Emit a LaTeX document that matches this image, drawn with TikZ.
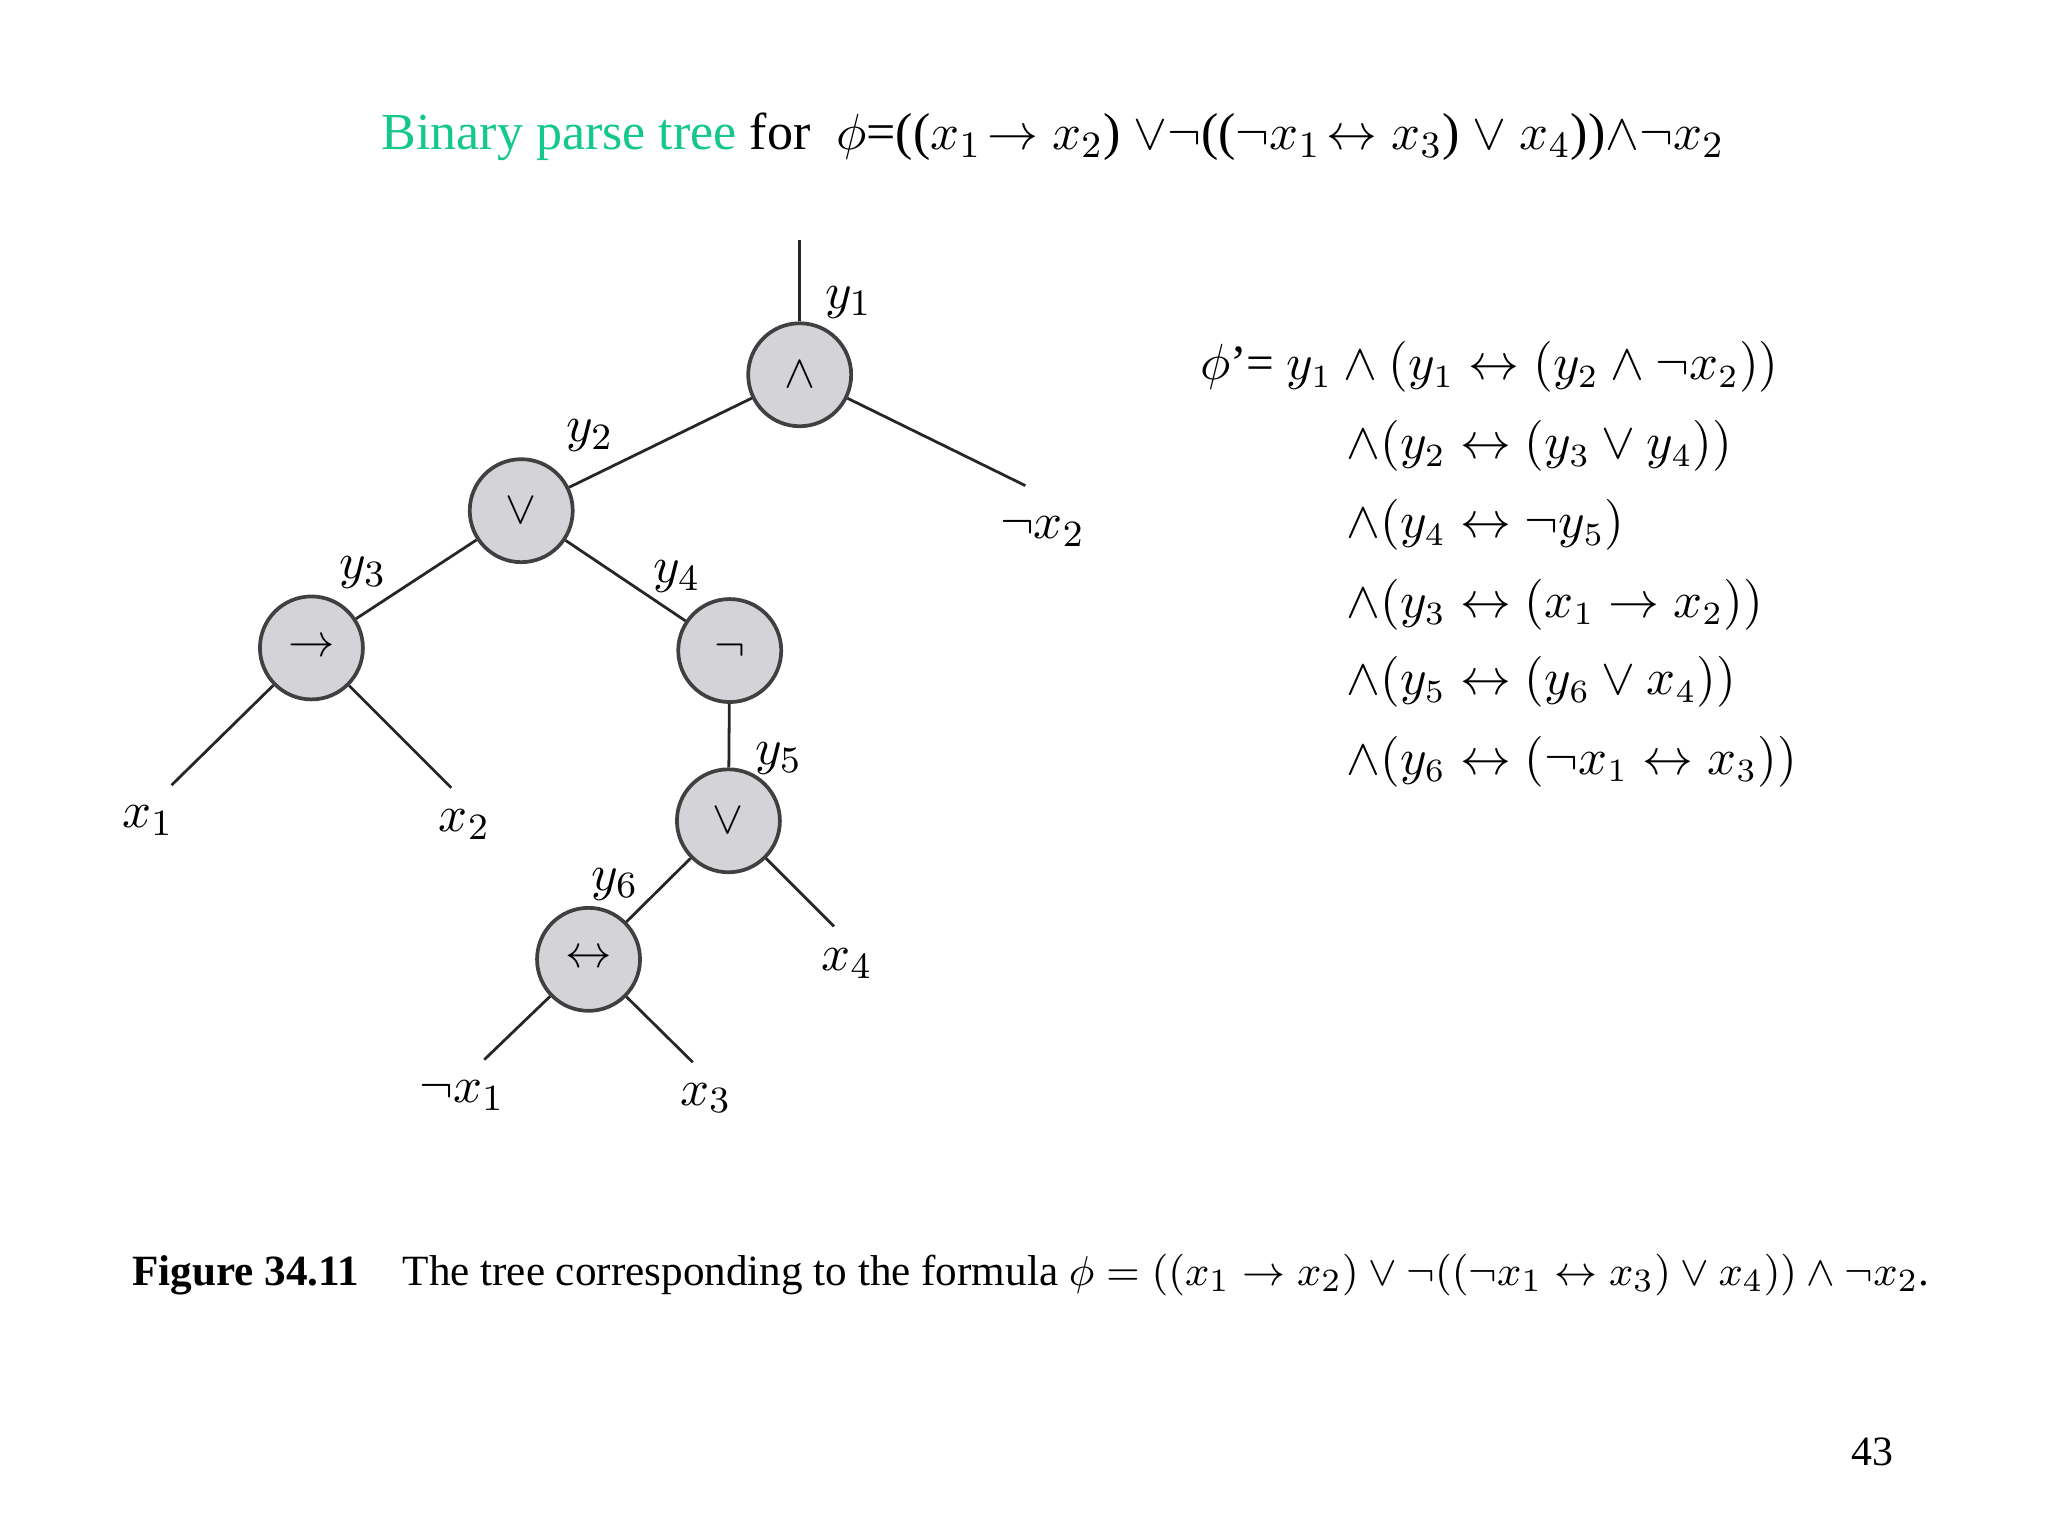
\documentclass[tikz,border=0pt]{standalone}
\usepackage{fontspec}
\setmainfont{Liberation Serif}
\definecolor{tgreen}{RGB}{20,200,140}
\definecolor{nfill}{RGB}{212,212,216}
\begin{document}
\begin{tikzpicture}[x=0.01cm,y=-0.01cm,
  op/.style={circle,draw=black!75,fill=nfill,line width=0.8pt,minimum size=0.78cm,inner sep=0pt,font=\normalsize},
  lbl/.style={font=\fontsize{11}{13}\selectfont},
  edge/.style={line width=0.6pt,black!85},
  frm/.style={font=\fontsize{10.6}{13}\selectfont,anchor=west}]
\useasboundingbox (0,0) rectangle (1552,1164);
\node[font=\fontsize{11.2}{13}\selectfont] (title) at (798,104) {\textcolor{tgreen}{Binary parse tree} for\ \ $\phi$=(($x_1\!\rightarrow x_2$) $\vee\neg$(($\neg x_1\!\leftrightarrow x_3$) $\vee$ $x_4$))$\wedge\neg x_2$};
\node[op] (n1) at (606,284) {$\wedge$};
\node[op] (n2) at (395,387) {$\vee$};
\node[op] (n3) at (236,491) {$\rightarrow$};
\node[op] (n4) at (553,493) {$\neg$};
\node[op] (n5) at (552,622) {$\vee$};
\node[op] (n6) at (446,727) {$\leftrightarrow$};
\coordinate (top) at (606,182);
\coordinate (ex2) at (777,368);
\coordinate (ex1a) at (130,595);
\coordinate (ex2a) at (342,597);
\coordinate (ex4) at (632,702);
\coordinate (enx1) at (367,803);
\coordinate (ex3) at (525,805);
\draw[edge] (top) -- (n1);
\draw[edge] (n1) -- (ex2);
\draw[edge] (n1) -- (n2);
\draw[edge] (n2) -- (n3);
\draw[edge] (n2) -- (n4);
\draw[edge] (n3) -- (ex1a);
\draw[edge] (n3) -- (ex2a);
\draw[edge] (n4) -- (n5);
\draw[edge] (n5) -- (n6);
\draw[edge] (n5) -- (ex4);
\draw[edge] (n6) -- (enx1);
\draw[edge] (n6) -- (ex3);
\node[lbl] (ly1) at (643,229) {$y_1$};
\node[lbl] (ly2) at (447,330) {$y_2$};
\node[lbl] (ly3) at (275,434) {$y_3$};
\node[lbl] (ly4) at (513,437) {$y_4$};
\node[lbl] (ly5) at (590,575) {$y_5$};
\node[lbl] (ly6) at (466,670) {$y_6$};
\node[lbl] (lnx2) at (790,403) {$\neg x_2$};
\node[lbl] (lx1) at (112,622) {$x_1$};
\node[lbl] (lx2) at (352,625) {$x_2$};
\node[lbl] (lx4) at (642,730) {$x_4$};
\node[lbl] (lnx1) at (350,830) {$\neg x_1$};
\node[lbl] (lx3) at (535,832) {$x_3$};
\node[frm] (f1) at (897,278) {$\phi$'= $y_1\wedge(y_1\leftrightarrow(y_2\wedge\neg x_2))$};
\node[frm] (f2) at (1008,338) {$\wedge(y_2\leftrightarrow(y_3\vee y_4))$};
\node[frm] (f3) at (1008,398) {$\wedge(y_4\leftrightarrow\neg y_5)$};
\node[frm] (f4) at (1008,458) {$\wedge(y_3\leftrightarrow(x_1\rightarrow x_2))$};
\node[frm] (f5) at (1008,517) {$\wedge(y_5\leftrightarrow(y_6\vee x_4))$};
\node[frm] (f6) at (1008,577) {$\wedge(y_6\leftrightarrow(\neg x_1\leftrightarrow x_3))$};
\node[anchor=west,font=\fontsize{9.3}{11}\selectfont] (cap) at (88,966) {\textbf{Figure 34.11}\quad The tree corresponding to the formula $\phi=((x_1\rightarrow x_2)\vee\neg((\neg x_1\leftrightarrow x_3)\vee x_4))\wedge\neg x_2$.};
\node[font=\fontsize{9}{11}\selectfont] (pg) at (1419,1100) {43};
\end{tikzpicture}
\end{document}
